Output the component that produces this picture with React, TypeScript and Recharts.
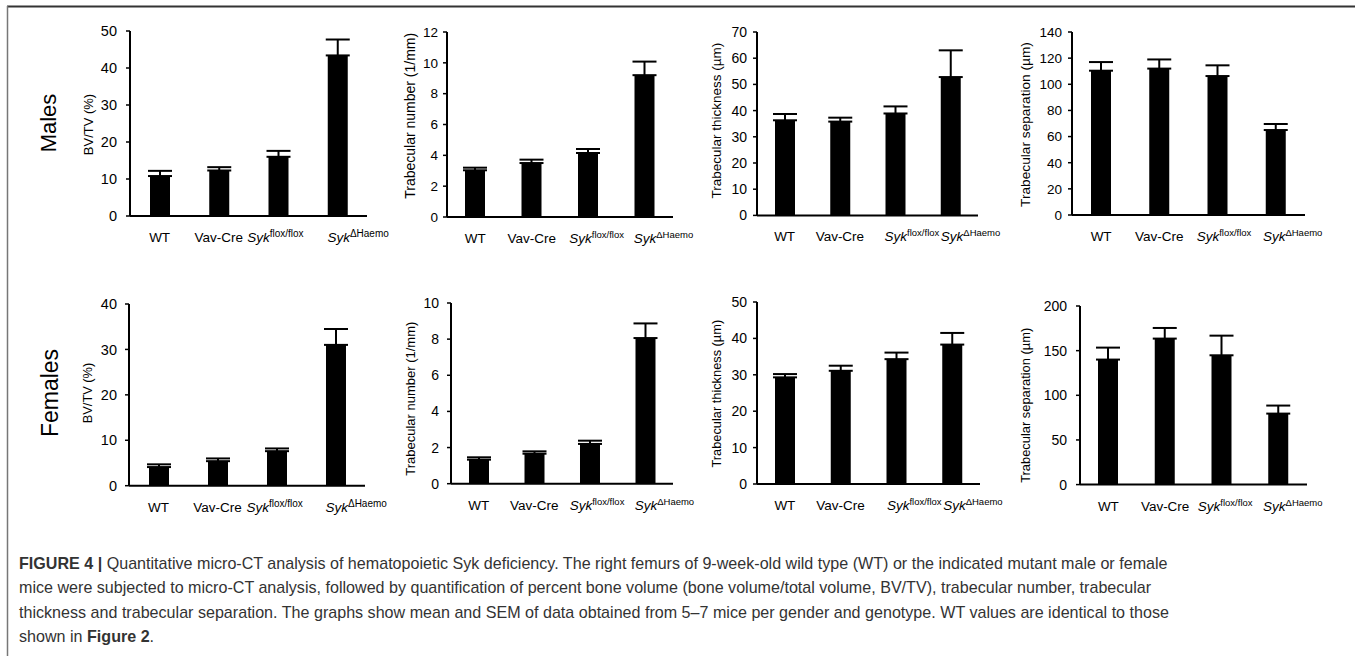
import React from "react";
import { BarChart, Bar, XAxis, YAxis, ErrorBar } from "recharts";

const FONT = "'Liberation Sans', Arial, sans-serif";

// genotypes; "^" marks the superscript part of the label
const CATEGORIES = ["WT", "Vav-Cre", "Syk^flox/flox", "Syk^ΔHaemo"];

// males
const M_BVTV = [10.8, 12.3, 16.0, 43.4];
const M_BVTV_SEM = [1.4, 0.9, 1.6, 4.3];
const M_TBN = [3.03, 3.5, 4.15, 9.2];
const M_TBN_SEM = [0.17, 0.22, 0.26, 0.88];
const M_TBTH = [36.3, 35.8, 38.9, 52.8];
const M_TBTH_SEM = [2.4, 1.5, 2.7, 10.2];
const M_TBSP = [110.4, 112, 106.3, 65];
const M_TBSP_SEM = [6.6, 7, 8.2, 4.6];

// females
const F_BVTV = [4.1, 5.4, 7.6, 31.0];
const F_BVTV_SEM = [0.6, 0.6, 0.6, 3.5];
const F_TBN = [1.33, 1.66, 2.2, 8.06];
const F_TBN_SEM = [0.13, 0.13, 0.18, 0.81];
const F_TBTH = [29.3, 31.1, 34.3, 38.3];
const F_TBTH_SEM = [0.9, 1.4, 1.8, 3.2];
const F_TBSP = [140, 163.5, 144.8, 79.5];
const F_TBSP_SEM = [13.4, 11.9, 22, 9];

const TICKS_M_BVTV = [0, 10, 20, 30, 40, 50];
const TICKS_M_TBN = [0, 2, 4, 6, 8, 10, 12];
const TICKS_M_TBTH = [0, 10, 20, 30, 40, 50, 60, 70];
const TICKS_M_TBSP = [0, 20, 40, 60, 80, 100, 120, 140];
const TICKS_F_BVTV = [0, 10, 20, 30, 40];
const TICKS_F_TBN = [0, 2, 4, 6, 8, 10];
const TICKS_F_TBTH = [0, 10, 20, 30, 40, 50];
const TICKS_F_TBSP = [0, 50, 100, 150, 200];

const T_BVTV = "BV/TV (%)";
const T_TBN = "Trabecular number (1/mm)";
const T_TBTH = "Trabecular thickness (µm)";
const T_TBSP = "Trabecular separation (µm)";

// layout of each panel in page pixels
// ax/top/zero/end: plot box, tx/ty: axis title centre, gap: tick label gap,
// sx: start offsets of the two Syk labels from their bar centre
const PANELS = [
  { mean: M_BVTV, sem: M_BVTV_SEM, ticks: TICKS_M_BVTV, title: T_BVTV, ax: 130, top: 31, zero: 216, end: 367, tx: 88, ty: 124.5, ts: 13, fs: 14.5, gap: 13, sx: [-31, -10], sup: 10 },
  { mean: M_TBN, sem: M_TBN_SEM, ticks: TICKS_M_TBN, title: T_TBN, ax: 447, top: 31.7, zero: 216.7, end: 673, tx: 410, ty: 115.5, ts: 14, fs: 13.5, gap: 9, sx: [-19, -11], sup: 9.5 },
  { mean: M_TBTH, sem: M_TBTH_SEM, ticks: TICKS_M_TBTH, title: T_TBTH, ax: 757, top: 32.3, zero: 215.7, end: 978, tx: 717, ty: 121, ts: 13.5, fs: 14, gap: 10, sx: [-10.5, -9.5], sup: 9.5 },
  { mean: M_TBSP, sem: M_TBSP_SEM, ticks: TICKS_M_TBSP, title: T_TBSP, ax: 1072, top: 32, zero: 215, end: 1305, tx: 1025, ty: 124.5, ts: 13.7, fs: 13.5, gap: 10, sx: [-21, -13], sup: 9.5 },
  { mean: F_BVTV, sem: F_BVTV_SEM, ticks: TICKS_F_BVTV, title: T_BVTV, ax: 129, top: 304, zero: 485.7, end: 365, tx: 88, ty: 393, ts: 12.8, fs: 14.5, gap: 12, sx: [-30, -10], sup: 10 },
  { mean: F_TBN, sem: F_TBN_SEM, ticks: TICKS_F_TBN, title: T_TBN, ax: 451, top: 303.3, zero: 484, end: 673, tx: 410, ty: 399, ts: 13, fs: 14, gap: 12, sx: [-20, -10.5], sup: 9.5 },
  { mean: F_TBTH, sem: F_TBTH_SEM, ticks: TICKS_F_TBTH, title: T_TBTH, ax: 757, top: 302.3, zero: 484.3, end: 980, tx: 717, ty: 394, ts: 12.8, fs: 14, gap: 10, sx: [-9.5, -9], sup: 9.5 },
  { mean: F_TBSP, sem: F_TBSP_SEM, ticks: TICKS_F_TBSP, title: T_TBSP, ax: 1080, top: 305.7, zero: 484.3, end: 1307, tx: 1025, ty: 405, ts: 12.9, fs: 14, gap: 13, sx: [-24, -15.5], sup: 9.5 },
];

const YW = 80;
const MT = 10;
const MR = 45;
const XH = 40;

function GenotypeTick(props: any) {
  const { x, y, payload, index, sx, sup: supSize } = props;
  const [base, sup] = String(payload.value).split("^");
  if (!sup) {
    return (
      <text x={x} y={y + 26} textAnchor="middle" fontSize={13.5} fontFamily={FONT} fill="#000">
        {base}
      </text>
    );
  }
  const dx = sx[index - 2] ?? -15;
  return (
    <text x={x + dx} y={y + 26} textAnchor="start" fontSize={13.5} fontFamily={FONT} fill="#000">
      <tspan fontStyle="italic">{base}</tspan>
      <tspan fontSize={supSize} dy={-5}>{sup}</tspan>
    </text>
  );
}

function Panel({ p }: { p: (typeof PANELS)[number] }) {
  const data = CATEGORIES.map((name, i) => ({ name, mean: p.mean[i], err: [0, p.sem[i]] }));
  const left = p.ax - YW;
  const top = p.top - MT;
  const width = YW + (p.end - p.ax) + MR;
  const height = MT + (p.zero - p.top) + XH;
  const tx = p.tx - left;
  const ty = p.ty - top;
  const max = p.ticks[p.ticks.length - 1];
  return (
    <div style={{ position: "absolute", left, top }}>
      <BarChart width={width} height={height} data={data} margin={{ top: MT, right: MR, bottom: 0, left: 0 }}>
        <XAxis
          dataKey="name"
          interval={0}
          height={XH}
          tickLine={false}
          tickSize={0}
          tickMargin={0}
          axisLine={{ stroke: "#000", strokeWidth: 2 }}
          tick={<GenotypeTick sx={p.sx} sup={p.sup} />}
        />
        <YAxis
          width={YW}
          domain={[0, max]}
          ticks={p.ticks}
          allowDataOverflow
          interval={0}
          tickSize={4}
          tickMargin={p.gap - 4}
          tickLine={{ stroke: "#000", strokeWidth: 1.5 }}
          axisLine={{ stroke: "#000", strokeWidth: 2 }}
          tick={{ fill: "#000", fontSize: p.fs, fontFamily: FONT }}
          label={() => (
            <text
              x={tx}
              y={ty}
              transform={`rotate(-90 ${tx} ${ty})`}
              textAnchor="middle"
              dominantBaseline="central"
              fontSize={p.ts}
              fontFamily={FONT}
              fill="#000"
            >
              {p.title}
            </text>
          )}
        />
        <Bar dataKey="mean" fill="#000" barSize={20} isAnimationActive={false}>
          <ErrorBar dataKey="err" direction="y" width={12} stroke="#000" strokeWidth={2} isAnimationActive={false} />
        </Bar>
      </BarChart>
    </div>
  );
}

export default function App() {
  return (
    <div style={{ position: "absolute", left: 0, top: 0, width: 1355, height: 656, background: "#fff", fontFamily: FONT }}>
      <svg width={1355} height={656} style={{ position: "absolute", left: 0, top: 0 }}>
        <line x1={7} y1={6.5} x2={1355} y2={6.5} stroke="#333" strokeWidth={2} />
        <line x1={7.5} y1={6} x2={7.5} y2={656} stroke="#777" strokeWidth={1.5} />
        <text x={48} y={123} transform="rotate(-90 48 123)" textAnchor="middle" dominantBaseline="central" fontSize={22} fontFamily={FONT} fill="#000">
          Males
        </text>
        <text x={50} y={393} transform="rotate(-90 50 393)" textAnchor="middle" dominantBaseline="central" fontSize={23} fontFamily={FONT} fill="#000">
          Females
        </text>
      </svg>
      {PANELS.map((p, i) => (
        <Panel key={i} p={p} />
      ))}
      <div
        style={{
          position: "absolute",
          left: 19,
          top: 551,
          fontSize: 16.1,
          lineHeight: "24.3px",
          color: "#333",
          whiteSpace: "nowrap",
        }}
      >
        <b>FIGURE 4 |</b> Quantitative micro-CT analysis of hematopoietic Syk deficiency. The right femurs of 9-week-old wild type (WT) or the indicated mutant male or female
        <br />
        mice were subjected to micro-CT analysis, followed by quantification of percent bone volume (bone volume/total volume, BV/TV), trabecular number, trabecular
        <br />
        thickness and trabecular separation. The graphs show mean and SEM of data obtained from 5–7 mice per gender and genotype. WT values are identical to those
        <br />
        shown in <b>Figure 2</b>.
      </div>
    </div>
  );
}
